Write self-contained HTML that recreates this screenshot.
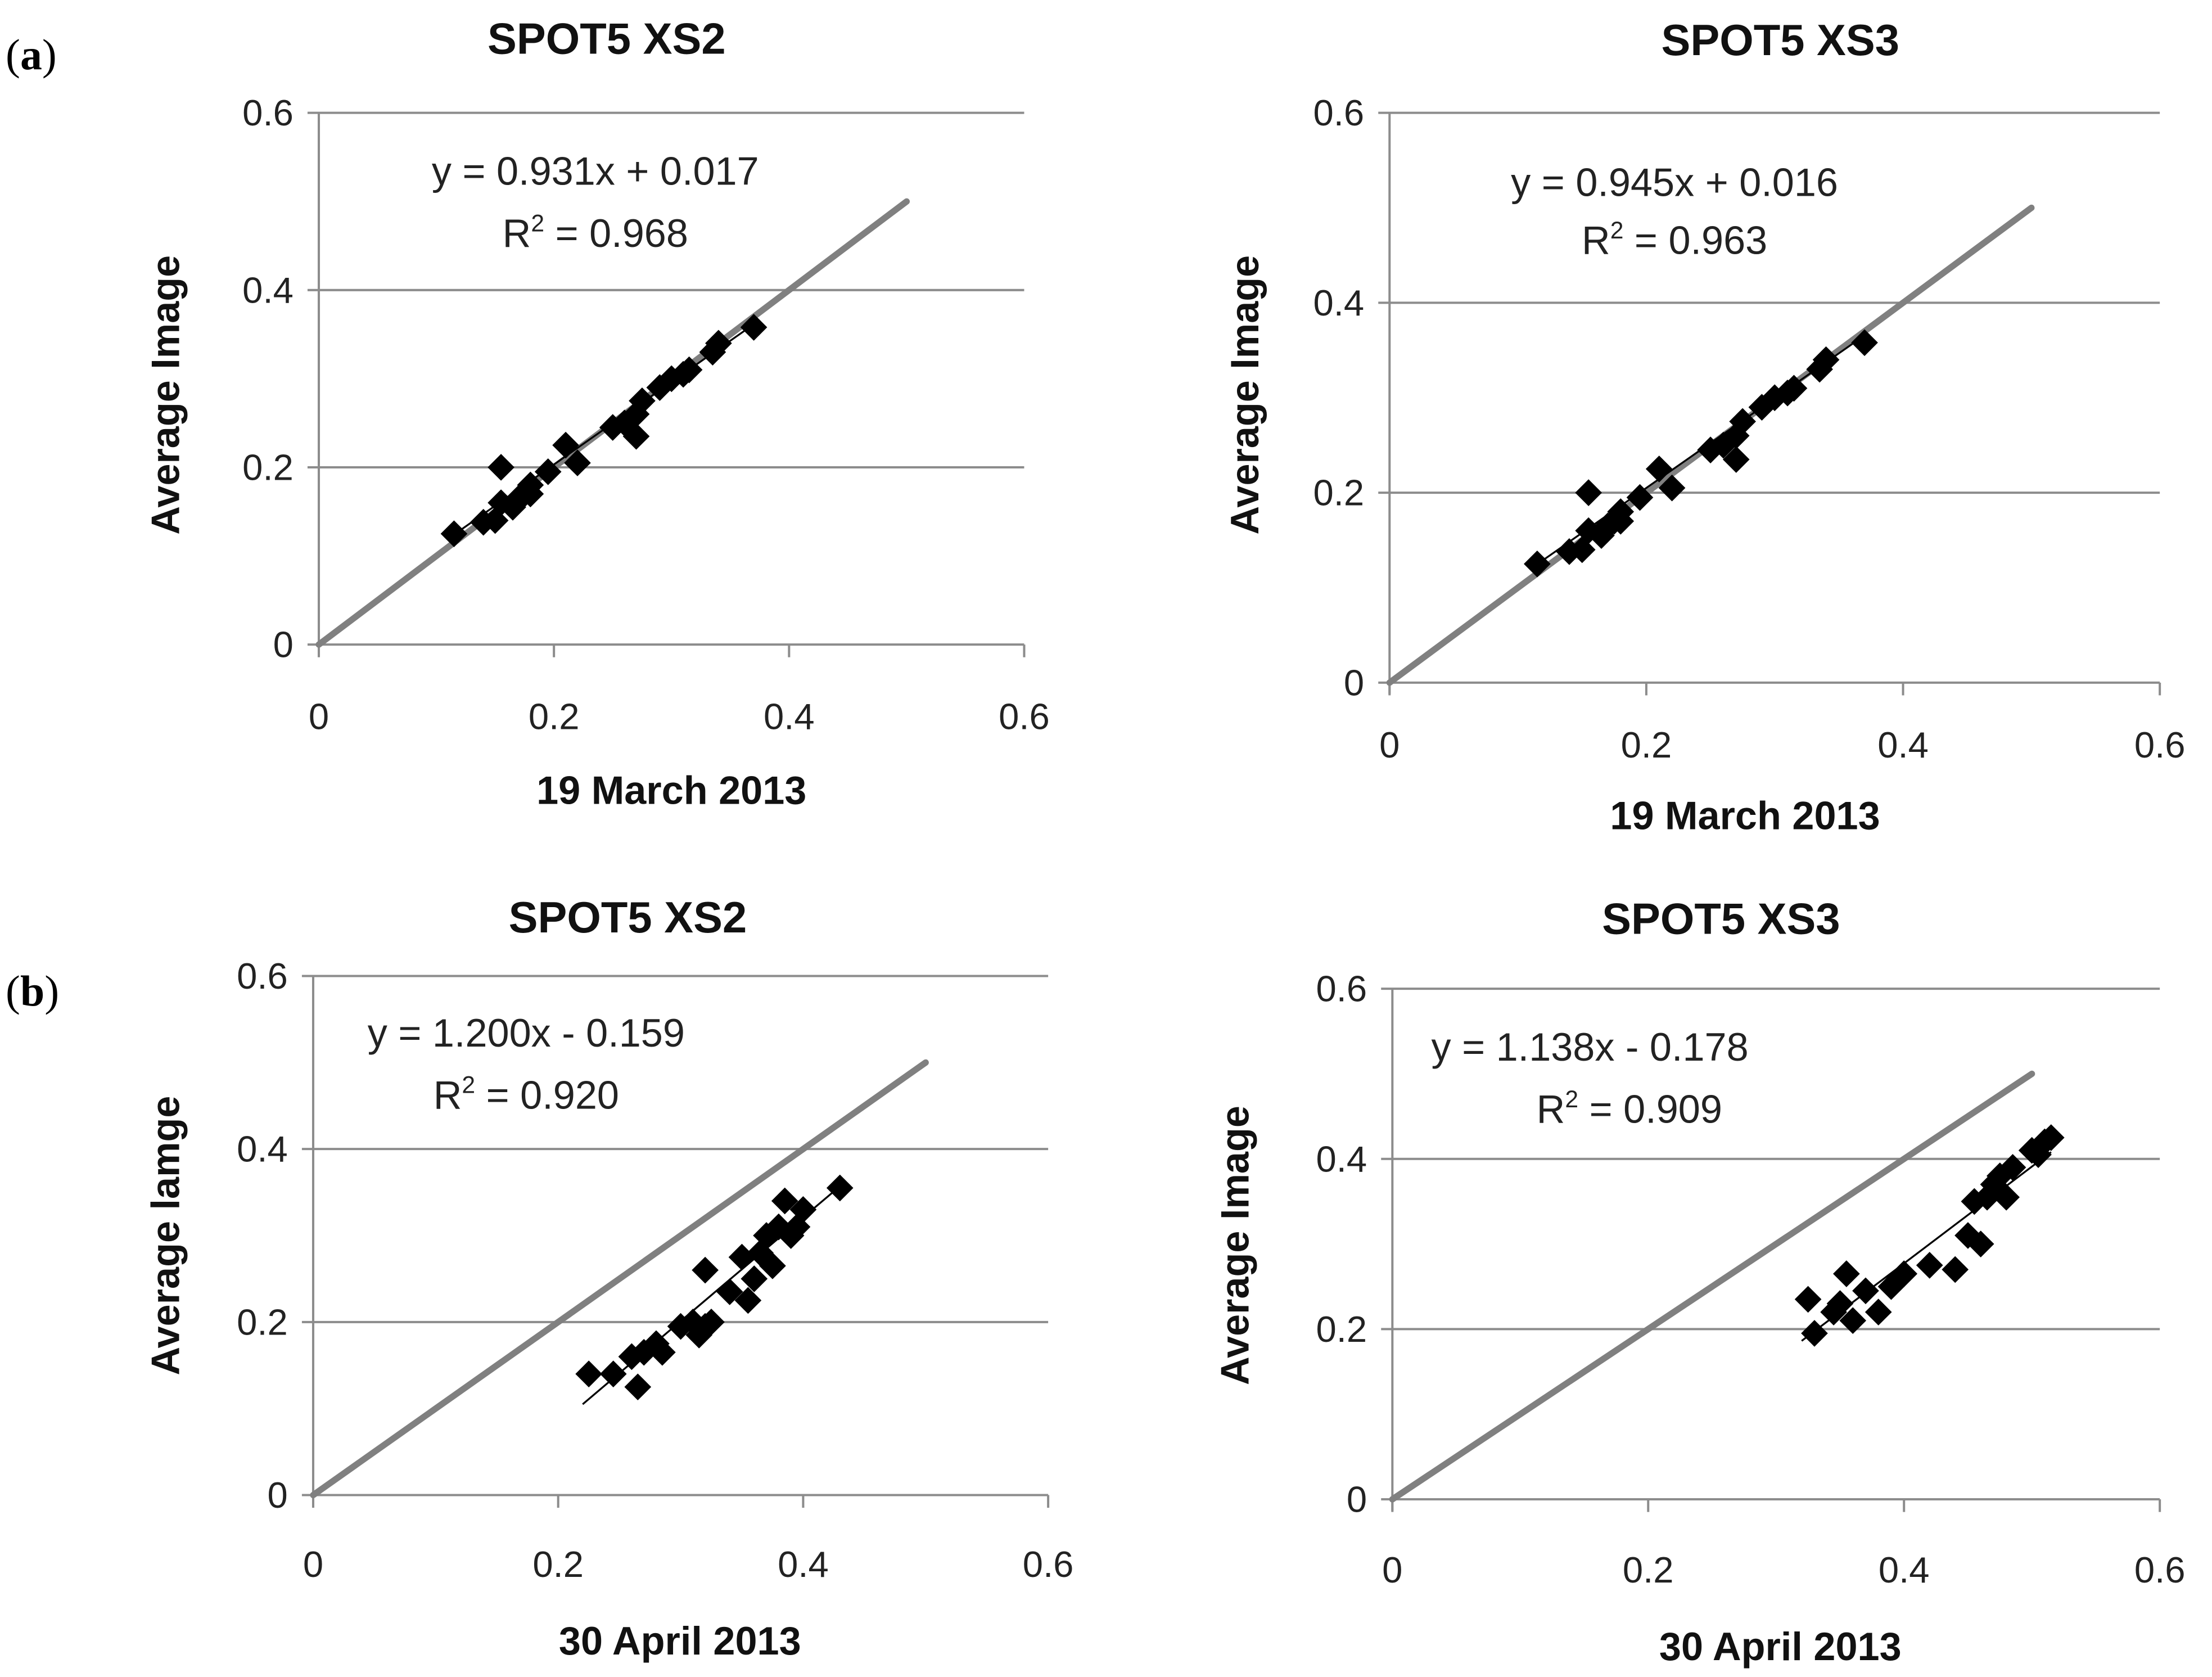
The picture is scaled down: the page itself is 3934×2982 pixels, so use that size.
<!DOCTYPE html>
<html><head><meta charset="utf-8"><style>
html,body{margin:0;padding:0;background:#fff;}
svg{display:block;}
text{font-family:"Liberation Sans",sans-serif;}
</style></head><body>
<svg id="fig" width="3934" height="2982" viewBox="0 0 1568 1189" preserveAspectRatio="none" xmlns="http://www.w3.org/2000/svg">
<text x="4" y="49" style="font-family:'Liberation Serif',serif" font-size="31">(<tspan font-weight="bold">a</tspan>)</text>
<text x="4" y="713" style="font-family:'Liberation Serif',serif" font-size="31">(<tspan font-weight="bold">b</tspan>)</text>
</svg>
<script>
const ticks = [0, 0.2, 0.4, 0.6];
const tickLabels = ["0", "0.2", "0.4", "0.6"];
const titles = ["SPOT5 XS2", "SPOT5 XS3", "SPOT5 XS2", "SPOT5 XS3"];
const xTitles = ["19 March 2013", "19 March 2013", "30 April 2013", "30 April 2013"];
const yTitles = ["Average Image", "Average Image", "Average lamge", "Average Image"];
const slopes = [0.931, 0.945, 1.200, 1.138];
const intercepts = [0.017, 0.016, -0.159, -0.178];
const eqLabels = ["y = 0.931x + 0.017", "y = 0.945x + 0.016", "y = 1.200x - 0.159", "y = 1.138x - 0.178"];
const r2Labels = ["0.968", "0.963", "0.920", "0.909"];
const aX = [0.115,0.14,0.15,0.155,0.155,0.165,0.17,0.175,0.18,0.18,0.195,0.21,0.22,0.25,0.26,0.27,0.27,0.275,0.29,0.3,0.31,0.315,0.335,0.34,0.37];
const aY = [0.125,0.138,0.14,0.16,0.2,0.155,0.165,0.17,0.18,0.17,0.195,0.225,0.205,0.245,0.25,0.26,0.235,0.275,0.29,0.3,0.305,0.31,0.33,0.34,0.358];
const bLX = [0.225,0.245,0.26,0.265,0.27,0.28,0.285,0.3,0.31,0.315,0.32,0.32,0.325,0.34,0.35,0.355,0.36,0.365,0.37,0.375,0.38,0.385,0.39,0.395,0.4,0.43];
const bLY = [0.14,0.14,0.16,0.125,0.165,0.175,0.165,0.195,0.2,0.185,0.195,0.26,0.2,0.235,0.275,0.225,0.25,0.28,0.3,0.265,0.31,0.34,0.3,0.31,0.33,0.355];
const bRX = [0.325,0.33,0.345,0.35,0.355,0.36,0.37,0.38,0.39,0.4,0.42,0.44,0.45,0.455,0.46,0.465,0.47,0.475,0.48,0.485,0.5,0.505,0.51,0.515];
const bRY = [0.235,0.195,0.22,0.23,0.265,0.21,0.245,0.22,0.25,0.265,0.275,0.27,0.31,0.35,0.3,0.355,0.37,0.38,0.355,0.39,0.41,0.405,0.42,0.425];

const panels = [
 {x0:226,x1:726,y0:457,y1:80,title:[430,38],xl:[476,570],yl:[117,280],tickY:517,eq:[422,131],r2:[422,175],xs:aX,ys:aY},
 {x0:985,x1:1531,y0:484,y1:80,title:[1262,39],xl:[1237,588],yl:[882,280],tickY:537,eq:[1187,139],r2:[1187,180],xs:aX,ys:aY},
 {x0:222,x1:743,y0:1060,y1:692,title:[445,661],xl:[482,1173],yl:[117,876],tickY:1118,eq:[373,742],r2:[373,786],xs:bLX,ys:bLY},
 {x0:987,x1:1531,y0:1063,y1:701,title:[1220,662],xl:[1262,1177],yl:[875,883],tickY:1122,eq:[1127,752],r2:[1155,796],xs:bRX,ys:bRY}
];
const NS="http://www.w3.org/2000/svg";
const svg=document.getElementById('fig');
function mk(tag,attrs,parent){const e=document.createElementNS(NS,tag);for(const k in attrs)e.setAttribute(k,attrs[k]);(parent||svg).appendChild(e);return e;}
panels.forEach((p,i)=>{
 const g=mk('g',{});
 
 
 const sx=v=>p.x0+(p.x1-p.x0)*v/0.6;
 const sy=v=>p.y0+(p.y1-p.y0)*v/0.6;
 ticks.forEach((t,k)=>{
  const gl=mk('line',{x1:p.x0-8,x2:p.x1,y1:sy(t),y2:sy(t),stroke:'#8c8c8c','stroke-width':1.6},g);
  
  
  const tl=mk('text',{x:p.x0-18,y:sy(t)+9,'text-anchor':'end','font-size':26,fill:'#222'},g);
  tl.textContent=tickLabels[k];
  
  
  const xt=mk('line',{x1:sx(t),x2:sx(t),y1:p.y0,y2:p.y0+9,stroke:'#8c8c8c','stroke-width':1.6},g);
  
  
  const xl=mk('text',{x:sx(t),y:p.tickY,'text-anchor':'middle','font-size':26,fill:'#222'},g);
  xl.textContent=tickLabels[k];
  
  
 });
 const ya=mk('line',{x1:p.x0,x2:p.x0,y1:p.y1,y2:p.y0+8,stroke:'#8c8c8c','stroke-width':1.6},g);
 
 
 const oneToOne=mk('line',{x1:sx(0),y1:sy(0),x2:sx(0.5),y2:sy(0.5),stroke:'#808080','stroke-width':4.5,'stroke-linecap':'round'},g);
 
 
 p.xs.forEach((x,j)=>{
  const cx=sx(x),cy=sy(p.ys[j]),r=9.5;
  const d=mk('polygon',{points:`${cx},${cy-r} ${cx+r},${cy} ${cx},${cy+r} ${cx-r},${cy}`,fill:'#000'},g);
  
  
 });
 const xmin=Math.min(...p.xs)-0.005,xmax=Math.max(...p.xs);
 const tr=mk('line',{x1:sx(xmin),y1:sy(slopes[i]*xmin+intercepts[i]),x2:sx(xmax),y2:sy(slopes[i]*xmax+intercepts[i]),stroke:'#000','stroke-width':1.3},g);
 
 
 const eq=mk('text',{x:p.eq[0],y:p.eq[1],'text-anchor':'middle','font-size':28,fill:'#222'},g);
 eq.textContent=eqLabels[i];
 
 
 const r2=mk('text',{x:p.r2[0],y:p.r2[1],'text-anchor':'middle','font-size':28,fill:'#222'},g);
 r2.innerHTML='R<tspan font-size="17" dy="-11">2</tspan><tspan dy="11"> = '+r2Labels[i]+'</tspan>';
 
 
 const ti=mk('text',{x:p.title[0],y:p.title[1],'text-anchor':'middle','font-size':31,'font-weight':'bold',fill:'#111'},g);
 ti.textContent=titles[i];
 
 
 const xt=mk('text',{x:p.xl[0],y:p.xl[1],'text-anchor':'middle','font-size':28,'font-weight':'bold',fill:'#111'},g);
 xt.textContent=xTitles[i];
 
 
 const yt=mk('text',{x:p.yl[0],y:p.yl[1],'text-anchor':'middle','font-size':28,'font-weight':'bold',fill:'#111',transform:`rotate(-90 ${p.yl[0]} ${p.yl[1]})`,dy:10},g);
 yt.textContent=yTitles[i];
 
 
});
</script>
</body></html>
